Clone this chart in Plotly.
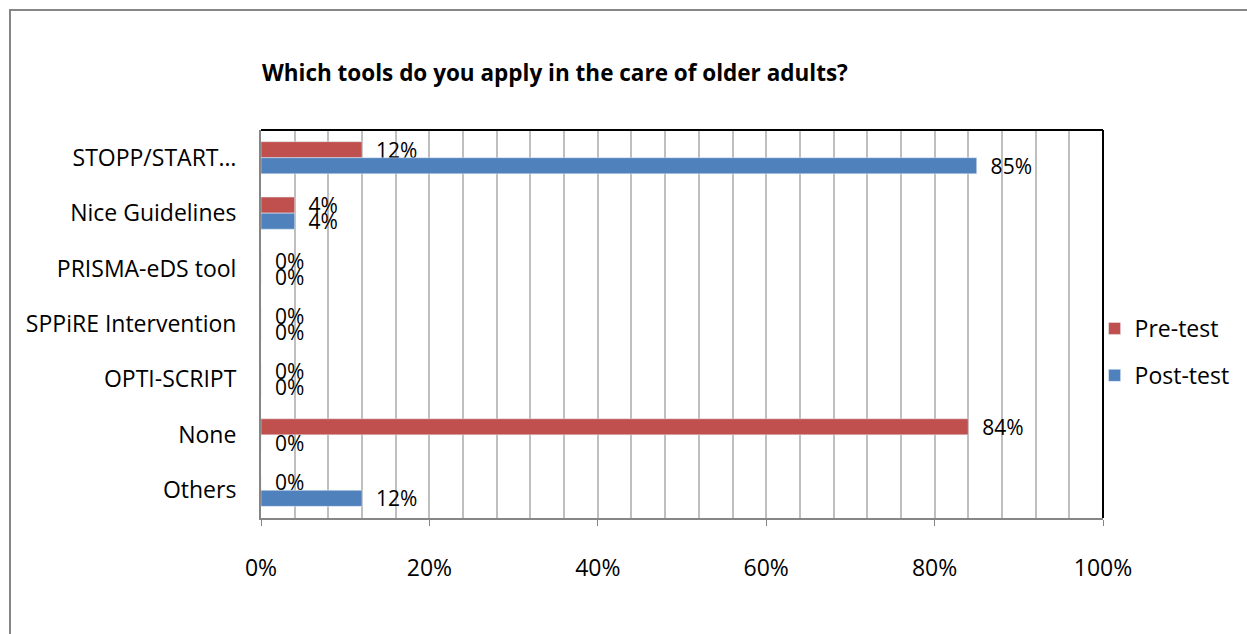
import plotly.graph_objects as go

categories = ["STOPP/START…", "Nice Guidelines", "PRISMA-eDS tool", "SPPiRE Intervention",
              "OPTI-SCRIPT", "None", "Others"]
pre_test = [12, 4, 0, 0, 0, 84, 0]
post_test = [85, 4, 0, 0, 0, 0, 12]
x_ticks = [0, 20, 40, 60, 80, 100]
x_tick_labels = ["0%", "20%", "40%", "60%", "80%", "100%"]

FONT = "Open Sans"
W, H = 1247, 634
L, R, T, B = 261, 1103, 130, 518

fig = go.Figure()
fig.add_trace(go.Bar(
    y=categories, x=pre_test, name="Pre-test", orientation="h",
    marker=dict(color="#C0504D"), legendgroup="a",
    text=[f"{v}%" for v in pre_test], textposition="outside",
    texttemplate="  %{text}", cliponaxis=False, constraintext="none",
    textfont=dict(family=FONT, size=21, color="#000000"),
))
fig.add_trace(go.Bar(
    y=categories, x=post_test, name="Post-test", orientation="h",
    marker=dict(color="#4F81BD"), legendgroup="b",
    text=[f"{v}%" for v in post_test], textposition="outside",
    texttemplate="  %{text}", cliponaxis=False, constraintext="none",
    textfont=dict(family=FONT, size=21, color="#000000"),
))

fig.update_layout(
    width=W, height=H,
    margin=dict(l=L, r=W - R, t=T, b=H - B),
    paper_bgcolor="white", plot_bgcolor="white",
    barmode="group", bargap=0.42, bargroupgap=0,
    font=dict(family=FONT, size=23, color="#000000"),
    title=dict(text="<b>Which tools do you apply in the care of older adults?</b>",
               x=262 / W, xref="container", xanchor="left",
               y=1 - 73 / H, yref="container", yanchor="middle",
               font=dict(family=FONT, size=22.5, color="#000000")),
    legend=dict(x=0.99, xanchor="left", y=(B - 352) / (B - T), yanchor="middle",
                font=dict(family=FONT, size=23), tracegroupgap=14,
                bgcolor="rgba(0,0,0,0)"),
    showlegend=True,
    uniformtext=dict(mode=False),
)
fig.update_xaxes(
    range=[0, 100], tickvals=x_ticks, ticktext=x_tick_labels,
    showgrid=True, gridcolor="#BFBFBF", gridwidth=2,
    minor=dict(dtick=4, showgrid=True, gridcolor="#BFBFBF", gridwidth=2, ticks=""),
    showline=True, linecolor="#868686", linewidth=2,
    ticks="outside", ticklen=6, tickcolor="#868686", tickwidth=1,
    tickfont=dict(family=FONT, size=23), ticklabelstandoff=22,
    zeroline=False, fixedrange=True,
)
fig.update_yaxes(
    autorange="reversed", showgrid=False,
    showline=True, linecolor="#868686", linewidth=2,
    ticks="", tickfont=dict(family=FONT, size=23), ticklabelstandoff=18,
    fixedrange=True,
)
# plot area border (top and right)
fig.add_shape(type="line", xref="paper", yref="paper", x0=0, x1=1, y0=1, y1=1,
              line=dict(color="#000000", width=2))
fig.add_shape(type="line", xref="paper", yref="paper", x0=1, x1=1, y0=0, y1=1,
              line=dict(color="#000000", width=2))
# outer chart frame
fx0 = (10 - L) / (R - L)
fy1 = (B - 10) / (B - T)
fig.add_shape(type="rect", xref="paper", yref="paper", x0=fx0, x1=3, y0=-3, y1=fy1,
              line=dict(color="#868686", width=2), layer="below")

fig.write_html("out.html")
